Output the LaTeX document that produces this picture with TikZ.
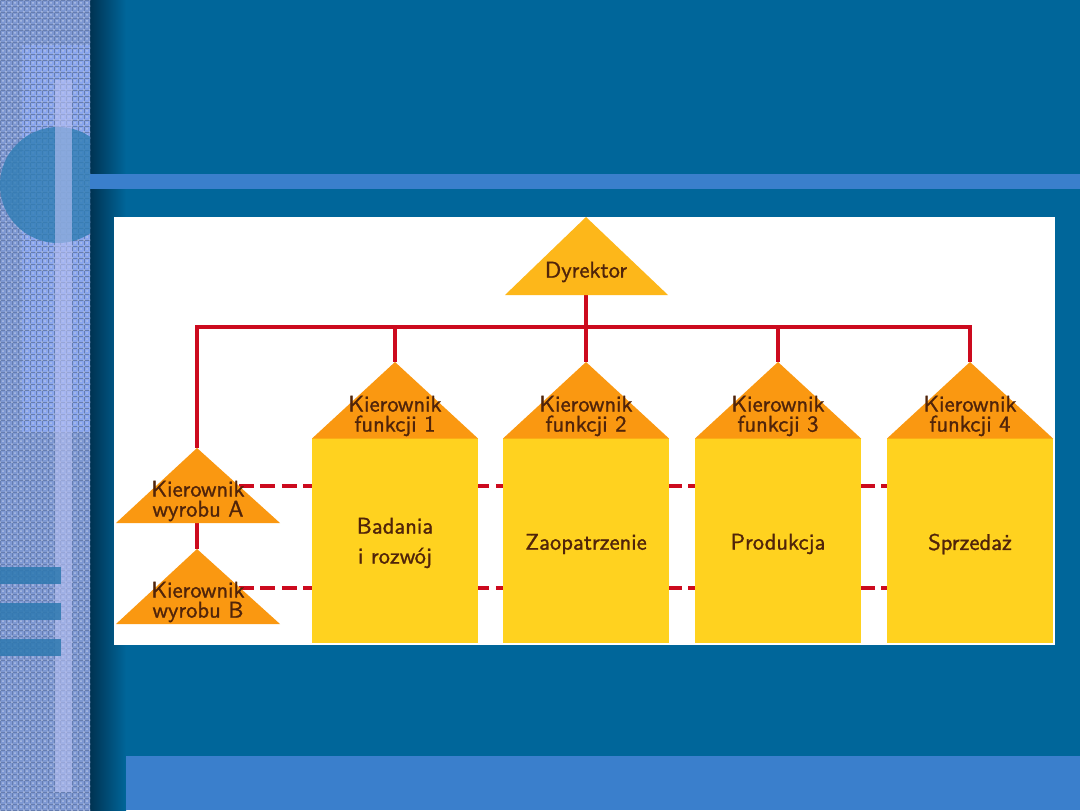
\documentclass[tikz,border=0pt]{standalone}
\usepackage{fontspec}
\newfontfamily\lab{lmsans10-regular.otf}[FakeBold=1.2]
\usetikzlibrary{patterns}
\definecolor{bgblue}{HTML}{00669A}
\definecolor{shadowdark}{HTML}{003352}
\definecolor{bandblue}{HTML}{3A7FCC}
\definecolor{stripbase}{HTML}{7E98D2}
\definecolor{striplight}{HTML}{8AA6EE}
\definecolor{stripgrid}{HTML}{3F5C9C}
\definecolor{barcol}{HTML}{B8C0F2}
\definecolor{circcol}{HTML}{2F7DB4}
\definecolor{tealbar}{HTML}{2E79B0}
\definecolor{dirfill}{HTML}{FDB71A}
\definecolor{trifill}{HTML}{FA9811}
\definecolor{boxfill}{HTML}{FFD21F}
\definecolor{txt}{HTML}{50240A}
\definecolor{redline}{HTML}{CC0A1E}
\pgfdeclarelayer{back}
\pgfdeclarelayer{lines}
\pgfsetlayers{back,lines,main}
\begin{document}
\begin{tikzpicture}[x=0.5pt,y=-0.5pt,
  lbl/.style={font=\lab\fontsize{11.3}{10}\selectfont, text=txt, align=center, inner sep=0pt},
  boxlbl/.style={font=\lab\fontsize{11.3}{15}\selectfont, text=txt, align=center, inner sep=0pt},
  funcbox/.style={fill=boxfill, draw=none, minimum width=83pt, minimum height=102.5pt, inner sep=0pt},
  conn/.style={draw=redline, line width=1.7pt},
  dashconn/.style={draw=redline, line width=1.7pt, dash pattern=on 7.5pt off 3.2pt}]
\useasboundingbox (0,0) rectangle (1080,810);
\begin{pgfonlayer}{back}
  \fill[bgblue] (0,0) rectangle (1080,810);
  \shade[left color=shadowdark, right color=bgblue] (90,0) rectangle (126,810);
  % textured strip
  \fill[stripbase] (0,0) rectangle (90,810);
  \fill[striplight] (22,45) rectangle (90,432);
  \fill[pattern=grid, pattern color=stripgrid!80] (0,0) rectangle (90,810);
  \fill[pattern=crosshatch dots, pattern color=white!40!stripbase] (0,0) rectangle (90,810);
  \begin{scope}
    \clip (0,0) rectangle (90,810);
    \fill[circcol, opacity=0.8] (58,185) circle[radius=58];
  \end{scope}
  \fill[barcol, opacity=0.6] (55,80) rectangle (72,792);
  \fill[tealbar, opacity=0.85] (0,567) rectangle (61,584);
  \fill[tealbar, opacity=0.85] (0,603) rectangle (61,620);
  \fill[tealbar, opacity=0.85] (0,639) rectangle (61,656);
  % bands and panel
  \fill[bandblue] (90,174) rectangle (1080,189);
  \fill[white] (114,217) rectangle (1055,645);
  \fill[bandblue] (126,756) rectangle (1080,810);
\end{pgfonlayer}

% key coordinates
\coordinate (dirTop) at (586,217);
\coordinate (dirBase) at (586,295);
\coordinate (bus) at (586,327);
\coordinate (f1Top) at (395,362);
\coordinate (f2Top) at (586,362);
\coordinate (f3Top) at (778,362);
\coordinate (f4Top) at (970,362);
\coordinate (pATop) at (197,448);
\coordinate (pABase) at (197,523);
\coordinate (pBTop) at (197,549);
\coordinate (dA) at (239,486);
\coordinate (dB) at (239,588);

% function boxes
\node[funcbox] (b1) at (395,540.5) {};
\node[funcbox] (b2) at (586,540.5) {};
\node[funcbox] (b3) at (778,540.5) {};
\node[funcbox] (b4) at (970,540.5) {};

% triangles
\fill[dirfill] (dirTop) -- (668,295) -- (505,295) -- cycle;
\foreach \c in {395,586,778,970}{
  \fill[trifill] (\c,362) -- (\c+83,438.5) -- (\c-83,438.5) -- cycle;
}
\fill[trifill] (pATop) -- (280,523) -- (116,523) -- cycle;
\fill[trifill] (pBTop) -- (280,624) -- (116,624) -- cycle;

% connectors
\begin{pgfonlayer}{lines}
  \draw[conn] (dirBase) -- (f2Top);
  \draw[conn] (pATop) |- (bus) -| (f4Top);
  \draw[conn] (bus) -| (f1Top);
  \draw[conn] (bus) -| (f3Top);
  \draw[conn] (pABase) -- (pBTop);
  \draw[dashconn] (dA) -- (dA -| b4.west);
  \draw[dashconn] (dB) -- (dB -| b4.west);
\end{pgfonlayer}

% labels
\node[lbl] (tdir) at (586,272) {Dyrektor};
\node[lbl] (tf1) at (395,416) {Kierownik\\funkcji 1};
\node[lbl] (tf2) at (586,416) {Kierownik\\funkcji 2};
\node[lbl] (tf3) at (778,416) {Kierownik\\funkcji 3};
\node[lbl] (tf4) at (970,416) {Kierownik\\funkcji 4};
\node[lbl] (tpA) at (198,501) {Kierownik\\wyrobu A};
\node[lbl] (tpB) at (198,602) {Kierownik\\wyrobu B};
\node[boxlbl] (tb1) at (395,543) {Badania\\i rozwój};
\node[boxlbl] (tb2) at (586,544) {Zaopatrzenie};
\node[boxlbl] (tb3) at (778,544) {Produkcja};
\node[boxlbl] (tb4) at (970,544) {Sprzedaż};
\end{tikzpicture}
\end{document}
